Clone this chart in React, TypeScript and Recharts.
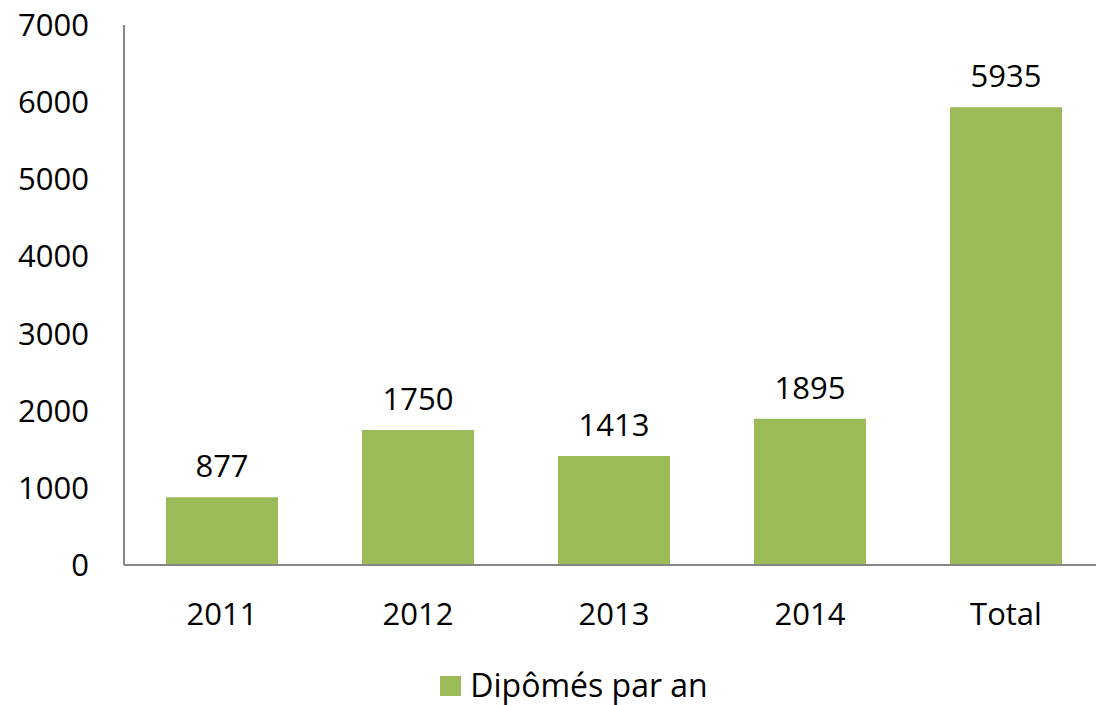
import React from 'react';
import { BarChart, Bar, XAxis, YAxis, Legend, LabelList } from 'recharts';

const categories = ['2011', '2012', '2013', '2014', 'Total'];
const graduates = [877, 1750, 1413, 1895, 5935];
const yTicks = [0, 1000, 2000, 3000, 4000, 5000, 6000, 7000];

const seriesName = 'Dipômés par an';
const barColor = '#9BBB59';
const axisColor = '#868686';
const fontFamily = '"Open Sans", sans-serif';

const chartData = categories.map((c, i) => ({ category: c, value: graduates[i] }));

const LegendContent = () => (
  <div
    style={{
      display: 'flex',
      alignItems: 'center',
      justifyContent: 'center',
      boxSizing: 'border-box',
      height: 40,
      lineHeight: '40px',
      paddingLeft: 44,
      fontFamily,
      fontSize: 32,
      color: '#000',
    }}
  >
    <span style={{ width: 21, height: 20, background: barColor, marginRight: 9, marginTop: 2, display: 'inline-block' }} />
    <span>{seriesName}</span>
  </div>
);

export default function App() {
  return (
    <div style={{ position: 'absolute', left: 0, top: 0, width: 1096, height: 705, overflow: 'hidden', background: '#fff' }}>
      <BarChart
        width={1110}
        height={705}
        data={chartData}
        margin={{ top: 25, right: 6, left: 0, bottom: 0 }}
        style={{ fontFamily }}
      >
        <XAxis
          dataKey="category"
          stroke={axisColor}
          strokeWidth={2}
          tickLine={false}
          tickSize={0}
          tickMargin={38}
          height={100}
          tick={{ fill: '#000', fontSize: 31 }}
        />
        <YAxis
          domain={[0, 7000]}
          ticks={yTicks}
          interval={0}
          width={124}
          stroke={axisColor}
          strokeWidth={2}
          tickLine={false}
          tickSize={0}
          tickMargin={35}
          tick={{ fill: '#000', fontSize: 31 }}
        />
        <Legend verticalAlign="bottom" height={40} content={<LegendContent />} />
        <Bar dataKey="value" name={seriesName} fill={barColor} barSize={112} isAnimationActive={false}>
          <LabelList dataKey="value" position="top" offset={20} fill="#000" fontSize={31} />
        </Bar>
      </BarChart>
    </div>
  );
}
